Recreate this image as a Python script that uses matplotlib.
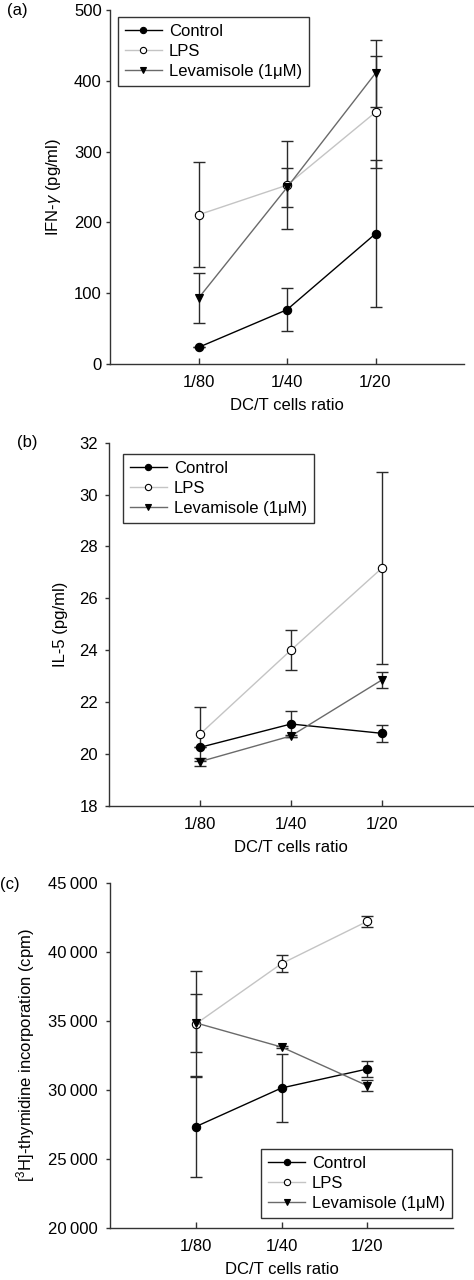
import matplotlib
matplotlib.use("Agg")
import matplotlib.pyplot as plt
from matplotlib.ticker import FuncFormatter

plt.rcParams['font.family'] = ['Liberation Sans', 'DejaVu Sans']
plt.rcParams['mathtext.fontset'] = 'custom'
plt.rcParams['mathtext.rm'] = 'Liberation Sans'
plt.rcParams['mathtext.it'] = 'Liberation Sans:italic'

ratios = ["1/80", "1/40", "1/20"]
series_names = ["Control", "LPS", "Levamisole (1\u03bcM)"]

# Panel (a) IFN-gamma
ifn_control = [23.5, 76.7, 184]
ifn_control_err = [0, 30, 104]
ifn_lps = [210.7, 252.6, 355.6]
ifn_lps_err = [74, 62, 79]
ifn_lev = [93, 249.3, 410.7]
ifn_lev_err = [35, 27, 47]

# Panel (b) IL-5
il5_control = [20.26, 21.16, 20.80]
il5_control_err = [0.0, 0.5, 0.34]
il5_lps = [20.77, 24.01, 27.17]
il5_lps_err = [1.03, 0.77, 3.7]
il5_lev = [19.71, 20.70, 22.86]
il5_lev_err = [0.15, 0.05, 0.3]

# Panel (c) thymidine
thy_control = [27333, 30140, 31520]
thy_control_err = [3650, 2500, 560]
thy_lps = [34787, 39167, 42240]
thy_lps_err = [3850, 620, 410]
thy_lev = [34870, 33117, 30310]
thy_lev_err = [2100, 100, 400]

W, H = 474, 1280
fig = plt.figure(figsize=(W / 100, H / 100), dpi=100)

FS = 12
line_colors = ["#000000", "#c4c4c4", "#6a6a6a"]
markers = ["o", "o", "v"]
mfaces = ["black", "white", "black"]
err_color = "#2a2a2a"


def box(l, t, r, b):
    return [l / W, 1 - b / H, (r - l) / W, (b - t) / H]


def draw(ax, vals, errs, ylim, yticks, ylabel, fmt=None, legend_loc=None,
         legend_anchor=None, ypad=4):
    x = [1, 2, 3]
    handles = []
    for i in range(3):
        ax.errorbar(x, vals[i], yerr=errs[i], fmt='none', ecolor=err_color,
                    elinewidth=1.0, capsize=4.5, capthick=1.0, zorder=2)
    for i in range(3):
        h, = ax.plot(x, vals[i], color=line_colors[i], lw=1.0, marker=markers[i],
                     markersize=6, markerfacecolor=mfaces[i], markeredgecolor='black',
                     markeredgewidth=0.8, zorder=3, label=series_names[i])
        handles.append(h)
    ax.set_xlim(0, 4)
    ax.set_ylim(*ylim)
    ax.set_yticks(yticks)
    ax.set_xticks(x)
    ax.set_xticklabels(ratios)
    if fmt is not None:
        ax.yaxis.set_major_formatter(FuncFormatter(fmt))
    for s in ['top', 'right']:
        ax.spines[s].set_visible(False)
    for s in ['left', 'bottom']:
        ax.spines[s].set_color('#333333')
        ax.spines[s].set_linewidth(1.0)
    ax.tick_params(axis='x', direction='in', length=4, width=1, color='#333333',
                   labelsize=FS, pad=8)
    ax.tick_params(axis='y', direction='out', length=3, width=1, color='#333333',
                   labelsize=FS, pad=ypad)
    ax.set_xlabel("DC/T cells ratio", fontsize=FS, labelpad=6)
    ax.set_ylabel(ylabel, fontsize=FS, labelpad=8)
    leg = ax.legend(handles=handles, loc=legend_loc, bbox_to_anchor=legend_anchor,
                    borderaxespad=0, fontsize=FS, frameon=True, fancybox=False,
                    handlelength=2.2, handletextpad=0.42, labelspacing=0.3,
                    borderpad=0.42, markerscale=0.75)
    leg.get_frame().set_edgecolor('black')
    leg.get_frame().set_linewidth(1.0)
    return ax


ax1 = fig.add_axes(box(110, 10, 464, 364))
draw(ax1, [ifn_control, ifn_lps, ifn_lev], [ifn_control_err, ifn_lps_err, ifn_lev_err],
     (0, 500), [0, 100, 200, 300, 400, 500], r"IFN-$\mathit{\gamma}$ (pg/ml)",
     legend_loc='upper left', legend_anchor=(0.0226, 0.98), ypad=3)

ax2 = fig.add_axes(box(109, 442.7, 473, 806))
draw(ax2, [il5_control, il5_lps, il5_lev], [il5_control_err, il5_lps_err, il5_lev_err],
     (18, 32), [18, 20, 22, 24, 26, 28, 30, 32], "IL-5 (pg/ml)",
     legend_loc='upper left', legend_anchor=(0.0385, 0.969), ypad=5)

ax3 = fig.add_axes(box(110, 883.3, 453, 1227.7))
draw(ax3, [thy_control, thy_lps, thy_lev], [thy_control_err, thy_lps_err, thy_lev_err],
     (20000, 45000), [20000, 25000, 30000, 35000, 40000, 45000],
     r"[$^{3}$H]-thymidine incorporation (cpm)",
     fmt=lambda v, p: f"{int(v) // 1000}\u2009{int(v) % 1000:03d}",
     legend_loc='lower right', legend_anchor=(0.997, 0.028), ypad=6)

fig.text(7 / W, 1 - 10 / H, "(a)", fontsize=FS, va='center', ha='left')
fig.text(17 / W, 1 - 443 / H, "(b)", fontsize=FS, va='center', ha='left')
fig.text(0 / W, 1 - 884 / H, "(c)", fontsize=FS, va='center', ha='left')

fig.savefig("out.png", dpi=100)
